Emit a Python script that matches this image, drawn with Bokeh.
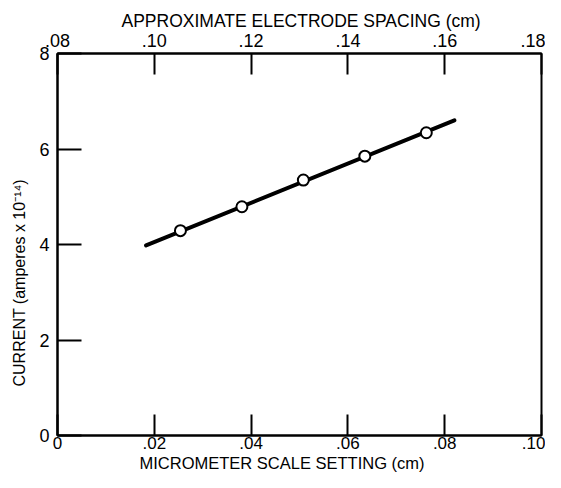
from bokeh.plotting import figure
from bokeh.models import Range1d, LinearAxis, FixedTicker, Title
from bokeh.embed import file_html
from bokeh.resources import INLINE

# ---- data ----
micrometer_cm = [0.0254, 0.0381, 0.0508, 0.0635, 0.0762]
current = [4.29, 4.79, 5.35, 5.85, 6.34]
fit_x = [0.0183, 0.0820]
fit_y = [3.98, 6.60]

x_ticks = [0, 0.02, 0.04, 0.06, 0.08, 0.10]
x_tick_labels = ["0", ".02", ".04", ".06", ".08", ".10"]
top_ticks = [0.08, 0.10, 0.12, 0.14, 0.16, 0.18]
top_tick_labels = [".08", ".10", ".12", ".14", ".16", ".18"]
y_ticks = [0, 2, 4, 6, 8]
y_tick_labels = ["0", "2", "4", "6", "8"]

x_title = "MICROMETER SCALE SETTING (cm)"
top_title_text = "APPROXIMATE ELECTRODE SPACING (cm)"
y_title = "CURRENT (amperes x 10\u207b\u00b9\u2074)"

FONT = "Liberation Sans"

p = figure(width=545, height=472, x_range=Range1d(0, 0.10), y_range=Range1d(0, 8),
           output_backend="svg", toolbar_location=None, title=None,
           x_axis_location=None, y_axis_location=None)
p.min_border_left = 56
p.min_border_right = 4
p.min_border_top = 53
p.min_border_bottom = 37
p.extra_x_ranges = {"top": Range1d(0.08, 0.18)}

p.outline_line_color = "black"
p.outline_line_width = 2
p.background_fill_color = "white"
p.border_fill_color = "white"
p.xgrid.grid_line_color = None
p.ygrid.grid_line_color = None


def style_axis(ax, tick_in, fs):
    ax.axis_line_color = "black"
    ax.axis_line_width = 2
    ax.major_tick_in = tick_in
    ax.major_tick_out = 0
    ax.major_tick_line_width = 2
    ax.major_tick_line_color = "black"
    ax.minor_tick_line_color = None
    ax.major_label_text_font = FONT
    ax.major_label_text_font_size = fs
    ax.major_label_text_color = "black"


bottom = LinearAxis(ticker=FixedTicker(ticks=x_ticks),
                    major_label_overrides=dict(zip(x_ticks, x_tick_labels)))
style_axis(bottom, 21, "17px")
bottom.major_label_standoff = 1
p.add_layout(bottom, "below")

top = LinearAxis(x_range_name="top", ticker=FixedTicker(ticks=top_ticks),
                 major_label_overrides=dict(zip(top_ticks, top_tick_labels)))
style_axis(top, 21, "18px")
top.major_label_standoff = 7
p.add_layout(top, "above")

left = LinearAxis(ticker=FixedTicker(ticks=y_ticks),
                  major_label_overrides=dict(zip(y_ticks, y_tick_labels)))
style_axis(left, 24, "18px")
left.major_label_standoff = 8
p.add_layout(left, "left")


def make_title(text, fs, offset, standoff):
    return Title(text=text, align="left", offset=offset, text_font=FONT,
                 text_font_size=fs, text_font_style="normal",
                 text_color="black", standoff=standoff)


p.add_layout(make_title(top_title_text, "17.5px", 64, 0), "above")
p.add_layout(make_title(x_title, "16.5px", 82, 0), "below")
p.add_layout(make_title(y_title, "16px", 49, 17), "left")

p.line(fit_x, fit_y, line_width=4, line_color="black", line_cap="round")
p.scatter(micrometer_cm, current, size=11, fill_color="white",
          line_color="black", line_width=2)

open("out.html", "w").write(file_html(p, INLINE))
